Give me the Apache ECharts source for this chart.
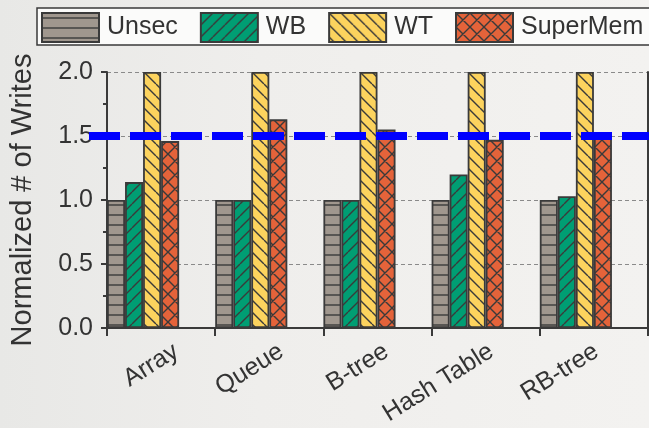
<!DOCTYPE html>
<html>
<head>
<meta charset="utf-8">
<script src="https://cdn.jsdelivr.net/npm/echarts@6/dist/echarts.min.js"></script>
<style>
  html, body { margin: 0; padding: 0; }
  body { width: 649px; height: 428px; background: linear-gradient(90deg, #e8e8e6 0%, #efeeec 40%, #f3f2f0 100%); overflow: hidden; }
  #chart { width: 649px; height: 428px; }
</style>
</head>
<body>
<div id="chart"></div>
<script>
// Normalized write counts per data structure
const categories = ['Array', 'Queue', 'B-tree', 'Hash Table', 'RB-tree'];
const seriesNames = ['Unsec', 'WB', 'WT', 'SuperMem'];
const unsecValues = [1.0, 1.0, 1.0, 1.0, 1.0];
const wbValues = [1.14, 1.0, 1.0, 1.2, 1.03];
const wtValues = [2.0, 2.0, 2.0, 2.0, 2.0];
const superMemValues = [1.46, 1.63, 1.55, 1.47, 1.49];
const yTicks = [0.0, 0.5, 1.0, 1.5, 2.0];
const thresholdValue = 1.5;

const INK = '#3a3a3a';

// Hatched fills drawn onto small tiles and repeated
function hatch(bg, w, h, draw) {
  const c = document.createElement('canvas');
  c.width = w; c.height = h;
  const ctx = c.getContext('2d');
  ctx.fillStyle = bg;
  ctx.fillRect(0, 0, w, h);
  ctx.strokeStyle = INK;
  ctx.lineWidth = 1.4;
  ctx.beginPath();
  draw(ctx, w, h);
  ctx.stroke();
  return { image: c, repeat: 'repeat' };
}
const horiz = (ctx, w, h) => { ctx.moveTo(0, h / 2); ctx.lineTo(w, h / 2); };
const slash = (ctx, w, h) => { for (let k = -1; k <= 1; k++) { ctx.moveTo(k * w, h); ctx.lineTo(k * w + w, 0); } };
const back = (ctx, w, h) => { for (let k = -1; k <= 1; k++) { ctx.moveTo(k * w, 0); ctx.lineTo(k * w + w, h); } };
const cross = (ctx, w, h) => { slash(ctx, w, h); back(ctx, w, h); };

const fills = [
  hatch('#a0978e', 10, 10, horiz),
  hatch('#009e73', 12, 12, slash),
  hatch('#fcd35e', 12, 12, back),
  hatch('#e4633a', 14, 14, cross)
];
const valueSets = [unsecValues, wbValues, wtValues, superMemValues];

const barSeries = seriesNames.map((name, i) => ({
  name: name,
  type: 'bar',
  xAxisIndex: 0,
  yAxisIndex: 0,
  data: valueSets[i],
  barGap: '0%',
  barCategoryGap: '0%',
  itemStyle: { color: fills[i], borderColor: INK, borderWidth: 1.8 },
  emphasis: { disabled: true }
}));
// two empty slots keep each group flush with the left edge of its category
['slotA', 'slotB'].forEach(n => barSeries.push({
  name: n, type: 'bar', xAxisIndex: 0, yAxisIndex: 0, data: [], barGap: '0%', barCategoryGap: '0%'
}));

const font = 'Liberation Sans, Arial, sans-serif';
const chart = echarts.init(document.getElementById('chart'));
chart.setOption({
  animation: false,
  backgroundColor: 'transparent',
  textStyle: { fontFamily: font },
  legend: {
    data: seriesNames,
    left: 37, top: 8, width: 760,
    padding: [4, 40, 2, 4],
    itemWidth: 57, itemHeight: 29, itemGap: 22,
    icon: 'rect',
    backgroundColor: '#fbfbfa',
    borderColor: INK, borderWidth: 1.5,
    textStyle: { fontSize: 25, color: '#333', fontFamily: font, padding: [0, 0, 0, 3] },
    selectedMode: false
  },
  grid: [
    { left: 107, right: 1, top: 72, bottom: 100 },
    { left: 89, right: 0, top: 72, bottom: 100 },
    // category labels sit a little right of each group's centre
    { left: 124, right: -16, top: 72, bottom: 100 }
  ],
  xAxis: [
    {
      type: 'category', data: categories, gridIndex: 0, position: 'bottom',
      axisLine: { lineStyle: { color: INK, width: 2 } },
      axisTick: { show: true, inside: false, length: 8, lineStyle: { color: INK, width: 2 } },
      axisLabel: { show: false }
    },
    {
      type: 'category', data: categories, gridIndex: 0, position: 'top',
      axisLine: { lineStyle: { color: INK, width: 2 } },
      axisTick: { show: true, inside: true, length: 8, lineStyle: { color: INK, width: 2 } },
      axisLabel: { show: false }
    },
    { type: 'value', gridIndex: 1, min: 0, max: 1, show: false },
    {
      type: 'category', data: categories, gridIndex: 2, position: 'bottom',
      axisLine: { show: false }, axisTick: { show: false },
      axisLabel: { rotate: 32, fontSize: 25, color: '#333', margin: 22, fontFamily: font, interval: 0 }
    }
  ],
  yAxis: [
    {
      type: 'value', gridIndex: 0, min: yTicks[0], max: yTicks[yTicks.length - 1], interval: 0.5,
      name: 'Normalized # of Writes', nameLocation: 'middle', nameGap: 70,
      nameTextStyle: { fontSize: 29, color: '#333', fontFamily: font },
      axisLine: { show: true, lineStyle: { color: INK, width: 2 } },
      axisTick: { show: true, inside: false, length: 6, lineStyle: { color: INK, width: 2 } },
      minorTick: { show: true, splitNumber: 2, length: 4, lineStyle: { color: INK, width: 2 } },
      axisLabel: { fontSize: 25, color: '#333', margin: 14, fontFamily: font, formatter: v => v.toFixed(1) },
      splitLine: { show: true, lineStyle: { color: '#8a8a8a', width: 1, type: [4, 3] } }
    },
    {
      type: 'value', gridIndex: 0, min: 0, max: 2, position: 'right',
      axisLine: { show: true, lineStyle: { color: INK, width: 2 } },
      axisTick: { show: false }, axisLabel: { show: false }, splitLine: { show: false }
    },
    { type: 'value', gridIndex: 1, min: 0, max: 2, show: false },
    { type: 'value', gridIndex: 2, min: 0, max: 2, show: false }
  ],
  series: barSeries.concat([{
    name: 'threshold',
    type: 'line',
    xAxisIndex: 2, yAxisIndex: 2,
    data: [[0, thresholdValue], [1, thresholdValue]],
    symbol: 'none',
    silent: true,
    z: 10,
    lineStyle: { color: '#0000ff', width: 8, type: [31, 10] }
  }])
});
</script>
</body>
</html>
